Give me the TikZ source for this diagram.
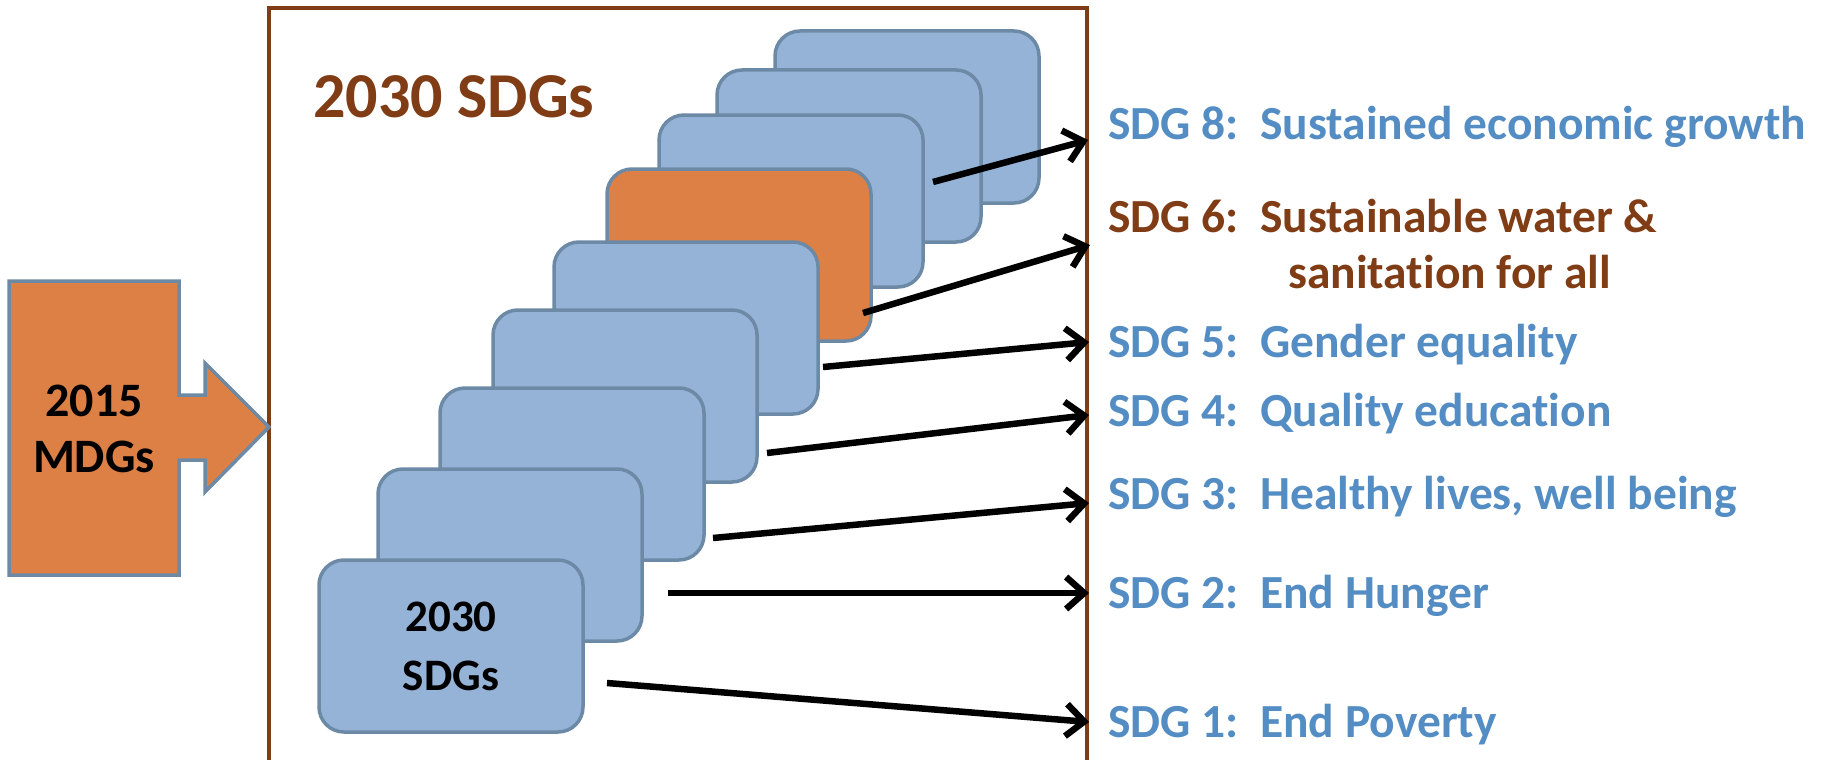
\documentclass[tikz,border=0pt]{standalone}
\usepackage{fontspec}
\setmainfont{Carlito}[Ligatures=NoCommon]
\usetikzlibrary{arrows.meta}
\definecolor{cardblue}{RGB}{149,179,215}
\definecolor{cardline}{RGB}{108,138,166}
\definecolor{orangefill}{RGB}{221,128,70}
\definecolor{brownc}{RGB}{128,60,20}
\definecolor{sdgblue}{RGB}{84,141,196}
\begin{document}
\begin{tikzpicture}[x=1pt,y=-1pt,
  card/.style={draw=cardline, line width=3.5pt, fill=cardblue, rounded corners=25pt,
    minimum width=264pt, minimum height=172pt, inner sep=0pt, align=center},
  conn/.style={line width=6.5pt, -{Straight Barb[length=18pt,width=32pt,line width=6.5pt]}},
  sdg/.style={anchor=base west, inner sep=0pt, font=\fontsize{47.5}{56}\selectfont\bfseries, text=sdgblue},
  sdgbrown/.style={sdg, text=brownc},
  frame/.style={draw=brownc, line width=3.5pt},
]
\useasboundingbox (0,0) rectangle (1831,760);

% frame
\draw[frame] (269,762) -- (269,8) -- (1087,8) -- (1087,762);

% title
\node[anchor=base west, inner sep=0pt, text=brownc, font=\fontsize{64}{70}\selectfont\bfseries] (title) at (313,117) {2030 SDGs};

% left block arrow
\draw[draw=cardline, line width=3.5pt, fill=orangefill, line join=miter]
  (9,281) -- (179,281) -- (179,395) -- (205,395) -- (205,363) -- (269,427)
  -- (205,492) -- (205,460) -- (179,460) -- (179,575) -- (9,575) -- cycle;
\node[align=center, inner sep=0pt, font=\fontsize{48}{56}\selectfont\bfseries] (mdg) at (94,429) {2015\\MDGs};

% cards, back to front
\node[card] (c1) at (907,117) {};
\node[card] (c2) at (849,156) {};
\node[card] (c3) at (791,201) {};
\node[card, fill=orangefill] (c4) at (739,255) {};
\node[card] (c5) at (686,328) {};
\node[card] (c6) at (625,396) {};
\node[card] (c7) at (572,474) {};
\node[card] (c8) at (510,555) {};
\node[card, font=\fontsize{45}{59}\selectfont\bfseries] (c9) at (451,646) {2030\\SDGs};

% connector end points
\coordinate (s8) at (933,182);
\coordinate (s6) at (863,313);
\coordinate (s5) at (823,367);
\coordinate (s4) at (767,453);
\coordinate (s3) at (713,538);
\coordinate (s2) at (668,593);
\coordinate (s1) at (607,683);
\coordinate (t8) at (1088,140);
\coordinate (t6) at (1090,245);
\coordinate (t5) at (1089,342);
\coordinate (t4) at (1089,415);
\coordinate (t3) at (1089,503);
\coordinate (t2) at (1089,593);
\coordinate (t1) at (1089,722);

\draw[conn] (s8) -- (t8);
\draw[conn] (s6) -- (t6);
\draw[conn] (s5) -- (t5);
\draw[conn] (s4) -- (t4);
\draw[conn] (s3) -- (t3);
\draw[conn] (s2) -- (t2);
\draw[conn] (s1) -- (t1);

% labels
\node[sdg] (l8) at (1108,139) {SDG 8:\ \ Sustained economic growth};
\node[sdgbrown] (l6a) at (1108,232) {SDG 6:\ \ Sustainable water \&};
\node[sdgbrown] (l6b) at (1288,288) {sanitation for all};
\node[sdg] (l5) at (1108,357) {SDG 5:\ \ Gender equality};
\node[sdg] (l4) at (1108,426) {SDG 4:\ \ Quality education};
\node[sdg] (l3) at (1108,509) {SDG 3:\ \ Healthy lives, well being};
\node[sdg] (l2) at (1108,608) {SDG 2:\ \ End Hunger};
\node[sdg] (l1) at (1108,737) {SDG 1:\ \ End Poverty};
\end{tikzpicture}
\end{document}
